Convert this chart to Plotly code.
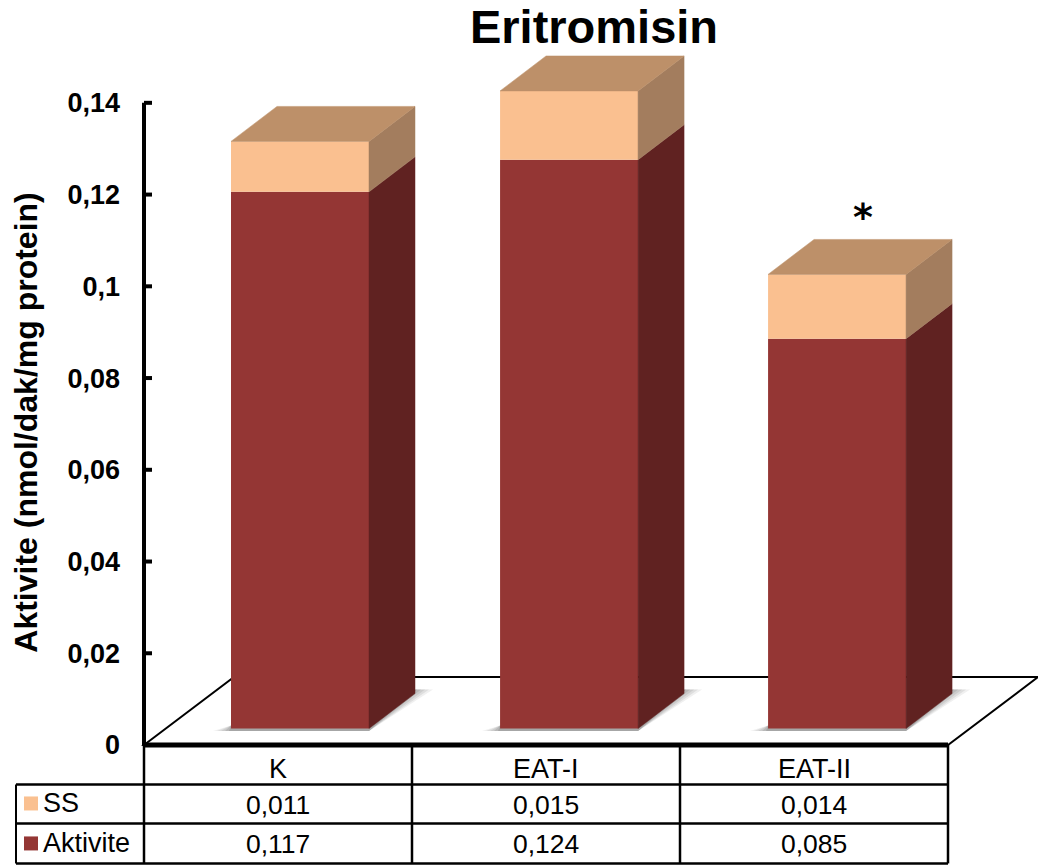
import plotly.graph_objects as go

categories = ["K", "EAT-I", "EAT-II"]
ss = [0.011, 0.015, 0.014]
aktivite = [0.117, 0.124, 0.085]
ytick_vals = [0, 0.02, 0.04, 0.06, 0.08, 0.1, 0.12, 0.14]
ytick_text = ["0", "0,02", "0,04", "0,06", "0,08", "0,1", "0,12", "0,14"]
ss_text = ["0,011", "0,015", "0,014"]
aktivite_text = ["0,117", "0,124", "0,085"]

W, H = 1038, 867
X0, Y0 = 144, 745.5        # pixel of the axis origin
PAD = 10                   # plot area reaches a little past the origin so the thick axis lines are not clipped
PL, PB = X0 - PAD, Y0 + PAD
PX_PER_CAT = 268.0
PX_PER_VAL = 4590.0
FONT = "Liberation Sans"

C_RED, C_RED_SIDE = "#943634", "#602221"
C_SS, C_SS_SIDE, C_SS_TOP = "#FAC090", "#A37D5E", "#BD9069"

def xv(px):
    return px / PX_PER_CAT
def yv(px):
    return px / PX_PER_VAL
def pxp(x):
    return (x - PL) / (W - PL)
def pyp(y):
    return (PB - y) / PB

bar_w = xv(138)
dx, dy = xv(46), yv(35)
lift = yv(16.5)
centers = [i + xv(22) + 0.5 + (0.004 if i else 0) for i in range(len(categories))]

fig = go.Figure()

def poly(xs, ys, color):
    fig.add_trace(go.Scatter(x=xs + xs[:1], y=ys + ys[:1], mode="lines", fill="toself",
                             fillcolor=color, line=dict(color=color, width=0.5),
                             hoverinfo="skip", showlegend=False))

fig.add_trace(go.Bar(x=centers, y=aktivite, base=[lift] * 3, width=bar_w, name="Aktivite",
                     marker=dict(color=C_RED, line=dict(width=0))))
fig.add_trace(go.Bar(x=centers, y=ss, base=[lift + a for a in aktivite], width=bar_w, name="SS",
                     marker=dict(color=C_SS, line=dict(width=0))))

for c, a, s in zip(centers, aktivite, ss):
    r = c + bar_w / 2
    l = c - bar_w / 2
    t1 = lift + a
    t2 = t1 + s
    poly([r, r + dx, r + dx, r], [lift, lift + dy, t1 + dy, t1], C_RED_SIDE)
    poly([r, r + dx, r + dx, r], [t1, t1 + dy, t2 + dy, t2], C_SS_SIDE)
    poly([l, r, r + dx, l + dx], [t2, t2, t2 + dy, t2 + dy], C_SS_TOP)

# axis lines
fig.add_trace(go.Scatter(x=[0, 0], y=[0, ytick_vals[-1]], mode="lines", line=dict(color="black", width=4),
                         hoverinfo="skip", showlegend=False))
fig.add_trace(go.Scatter(x=[0, len(categories)], y=[0, 0], mode="lines", line=dict(color="black", width=5),
                         hoverinfo="skip", showlegend=False))
for v in ytick_vals:
    fig.add_trace(go.Scatter(x=[0, xv(8)], y=[v, v], mode="lines", line=dict(color="black", width=4),
                             hoverinfo="skip", showlegend=False))

shapes = []
# floor
n = len(categories)
shapes.append(dict(type="path", xref="x", yref="y", layer="below",
                   path=f"M 0 0 L {xv(90)} {yv(68)} L {n + xv(90)} {yv(68)} L {n} 0 Z",
                   line=dict(color="black", width=2), fillcolor="white"))
# soft shadows
for c in centers:
    r = c + bar_w / 2
    l = c - bar_w / 2
    for s, op in ((18, 0.10), (14, 0.14), (10, 0.16), (6, 0.2), (2, 0.25)):
        e = xv(s)
        b = lift - yv(2.5)
        shapes.append(dict(type="path", xref="x", yref="y", layer="below", line=dict(width=0),
                           fillcolor=f"rgba(110,110,110,{op})",
                           path=f"M {l - e} {b} L {r} {b} L {r + dx + e} {lift + yv(39)} L {r + dx} {lift + yv(39)} "
                                f"L {r} {lift + yv(3)} L {l} {lift + yv(3)} Z"))

# data table
LINE = dict(color="black", width=2.5)
col_x = [X0 + PX_PER_CAT * i for i in range(n + 1)]
row_y = [Y0, 785, 824, 864]
def seg(x0, y0, x1, y1, line=LINE):
    shapes.append(dict(type="line", xref="paper", yref="paper", x0=pxp(x0), y0=pyp(y0), x1=pxp(x1), y1=pyp(y1), line=line))
for x in col_x:
    seg(x, Y0, x, row_y[-1])
seg(16, row_y[1], 16, row_y[-1], dict(color="black", width=2))
for y in row_y[1:]:
    seg(16, y, col_x[-1], y)
for y, col in ((797, C_SS), (837, C_RED)):
    shapes.append(dict(type="rect", xref="paper", yref="paper", x0=pxp(24), x1=pxp(38), y0=pyp(y), y1=pyp(y + 14),
                       fillcolor=col, line=dict(width=0)))

def note(text, x, y, size, bold=False, angle=0, anchor="center", color="black", family=FONT):
    fig.add_annotation(text=f"<b>{text}</b>" if bold else text, x=pxp(x), y=pyp(y), xref="paper", yref="paper",
                       showarrow=False, xanchor=anchor, yanchor="middle", textangle=angle,
                       font=dict(family=family, size=size, color=color), borderpad=0, borderwidth=0)

for i in range(n):
    cx = (col_x[i] + col_x[i + 1]) / 2
    note(categories[i], cx, 770, 27)
    note(ss_text[i], cx, 806, 26.5)
    note(aktivite_text[i], cx, 845, 26.5)
note("SS", 43, 804, 27, anchor="left")
note("Aktivite", 43, 844, 27, anchor="left")
note("Aktivite (nmol/dak/mg protein)", 26, 423, 32, bold=True, angle=-90)
note("*", 863, 217, 38, bold=True, family="DejaVu Sans")

fig.update_layout(
    width=W, height=H, margin=dict(l=PL, r=0, t=0, b=H - PB, pad=0),
    paper_bgcolor="white", plot_bgcolor="rgba(0,0,0,0)", barmode="overlay", showlegend=False,
    shapes=shapes,
    title=dict(text="<b>Eritromisin</b>", x=594 / W, xanchor="center", xref="container",
               y=1 - 43 / H, yanchor="bottom", yref="container", pad=dict(b=0),
               font=dict(family=FONT, size=47, color="black")),
    xaxis=dict(range=[xv(-PAD), xv(W - X0)], showgrid=False, zeroline=False, showline=False,
               showticklabels=False, ticks="", fixedrange=True),
    yaxis=dict(range=[yv(-PAD), yv(Y0)], showgrid=False, zeroline=False, showline=False,
               tickmode="array", tickvals=ytick_vals, ticktext=ytick_text, ticks="", ticklabelstandoff=13,
               tickfont=dict(family=FONT, size=27, color="black", weight="bold"), fixedrange=True),
)

fig.write_html("out.html", config=dict(displayModeBar=False),
               post_script="document.body.style.margin='0';document.body.style.overflow='hidden';")
